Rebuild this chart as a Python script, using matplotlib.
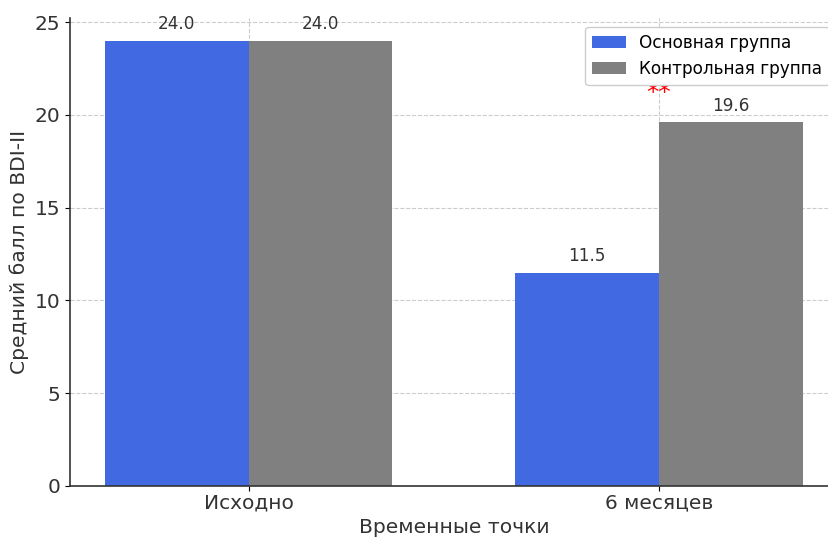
import numpy as np
import matplotlib.pyplot as plt

# data
time_points = ["Исходно", "6 месяцев"]
main_group = [24.0, 11.5]
control_group = [24.0, 19.6]
series_names = ["Основная группа", "Контрольная группа"]
signif_label = "**"

plt.rcParams['font.family'] = ['DejaVu Sans']

fig = plt.figure(figsize=(8.29, 5.38), dpi=100)
ax = fig.add_axes([0.0845, 0.0967, 0.926, 0.869])

x = np.arange(len(time_points))
width = 0.35

bars1 = ax.bar(x - width / 2, main_group, width, color="#4169E1", label=series_names[0])
bars2 = ax.bar(x + width / 2, control_group, width, color="#808080", label=series_names[1])

for bars in (bars1, bars2):
    for b in bars:
        h = b.get_height()
        ax.text(b.get_x() + b.get_width() / 2, h + 0.4, f"{h:.1f}",
                ha="center", va="bottom", fontsize=12.2, color="#333333")

# significance mark over the second time point
ax.text(x[1], max(main_group[1], control_group[1]) + 1.2, signif_label,
        ha="center", va="baseline", fontsize=18, color="red")

ax.set_xticks(x)
ax.set_xticklabels(time_points)
ax.set_xlabel("Временные точки", fontsize=14.6, color="#333333")
ax.set_ylabel("Средний балл по BDI-II", fontsize=14.6, color="#333333")
ax.tick_params(labelsize=14.5, labelcolor="#333333")
ax.tick_params(axis="x", pad=2)

ax.grid(True, linestyle="--", color="#cccccc", linewidth=0.8)
ax.set_axisbelow(True)
for side in ("top", "right"):
    ax.spines[side].set_visible(False)
ax.spines["left"].set_color("#333333")
ax.spines["bottom"].set_color("#333333")
ax.spines["left"].set_linewidth(1.2)
ax.spines["bottom"].set_linewidth(1.2)

ax.legend(loc="upper right", fontsize=12.2, framealpha=1.0)

fig.savefig("out.png", dpi=100)
